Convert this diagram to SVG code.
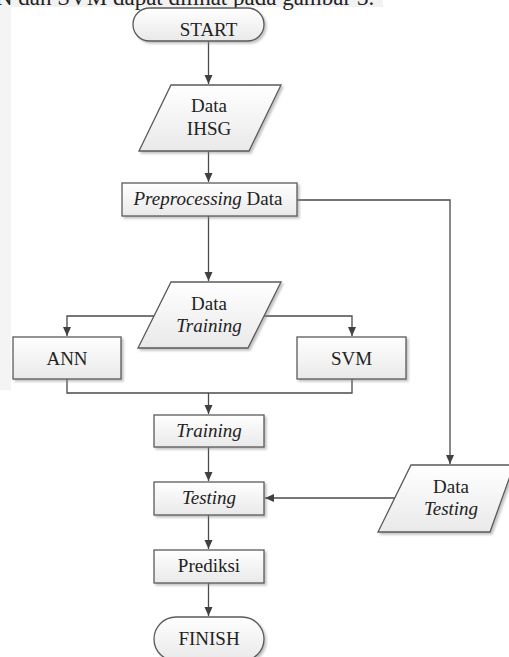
<svg xmlns="http://www.w3.org/2000/svg" width="509" height="657" viewBox="0 0 509 657">
<defs>
<linearGradient id="g" x1="0" y1="0" x2="0" y2="1">
<stop offset="0" stop-color="#ffffff"/>
<stop offset="1" stop-color="#e9e9e9"/>
</linearGradient>
<filter id="sh" x="-10%" y="-10%" width="130%" height="140%">
<feDropShadow dx="2" dy="2" stdDeviation="1.2" flood-color="#888" flood-opacity="0.5"/>
</filter>
<marker id="ah" markerWidth="10" markerHeight="10" refX="9" refY="5" orient="auto" markerUnits="userSpaceOnUse">
<path d="M0,1 L9,5 L0,9 Z" fill="#404040"/>
</marker>
</defs>
<style>
.n{fill:url(#g);stroke:#5a5a5a;stroke-width:1.3;filter:url(#sh)}
.c{fill:none;stroke:#4a4a4a;stroke-width:1.3}
.a{marker-end:url(#ah)}
text{font-family:"Liberation Serif","Times New Roman",serif;font-size:19px;fill:#222;text-anchor:middle}
.i{font-style:italic}
</style>
<rect x="0" y="0" width="383" height="7" fill="#f2f2f2"/>
<rect x="0" y="0" width="11" height="390" fill="#f4f4f4"/>
<text x="-4" y="5" style="text-anchor:start;font-size:23px">N dan SVM dapat dilihat pada gambar 3.</text>
<g id="connectors">
<path class="c a" d="M208.5,41 V84"/>
<path class="c a" d="M208.5,151 V182"/>
<path class="c a" d="M297,200 H450 V464"/>
<path class="c a" d="M208.5,216 V281"/>
<path class="c a" d="M154,316 H67 V336"/>
<path class="c a" d="M264,316 H352 V336"/>
<path class="c" d="M67,379 V393 H352 V379"/>
<path class="c a" d="M208.5,393 V414"/>
<path class="c a" d="M208.5,447 V481"/>
<path class="c a" d="M395,498 H265"/>
<path class="c a" d="M208.5,515 V549"/>
<path class="c a" d="M208.5,583 V616"/>
</g>
<g id="start"><rect class="n" x="133" y="8" width="131" height="33" rx="16.5"/><text x="208.5" y="36">START</text></g>
<g id="data-ihsg"><polygon class="n" points="171,85 281,85 249,151 139,151"/><text x="209" y="112">Data</text><text x="209" y="135">IHSG</text></g>
<g id="preprocessing"><rect class="n" x="122" y="183" width="175" height="33"/><text x="208" y="205"><tspan class="i">Preprocessing</tspan> Data</text></g>
<g id="data-training"><polygon class="n" points="171,282 281,282 248,348 138,348"/><text x="209" y="310">Data</text><text class="i" x="209" y="332">Training</text></g>
<g id="ann"><rect class="n" x="13" y="337" width="108" height="42"/><text x="67" y="365">ANN</text></g>
<g id="svm"><rect class="n" x="297" y="337" width="109" height="42"/><text x="351.5" y="365">SVM</text></g>
<g id="training"><rect class="n" x="154" y="415" width="110" height="32"/><text class="i" x="209" y="437">Training</text></g>
<g id="testing"><rect class="n" x="154" y="482" width="110" height="33"/><text class="i" x="209" y="504">Testing</text></g>
<g id="data-testing"><polygon class="n" points="411,465 514,465 490,532 378,532"/><text x="451" y="493">Data</text><text class="i" x="451" y="515">Testing</text></g>
<g id="prediksi"><rect class="n" x="154" y="550" width="110" height="33"/><text x="209" y="572">Prediksi</text></g>
<g id="finish"><rect class="n" x="154" y="617" width="110" height="44" rx="22"/><text x="209" y="645">FINISH</text></g>
</svg>
